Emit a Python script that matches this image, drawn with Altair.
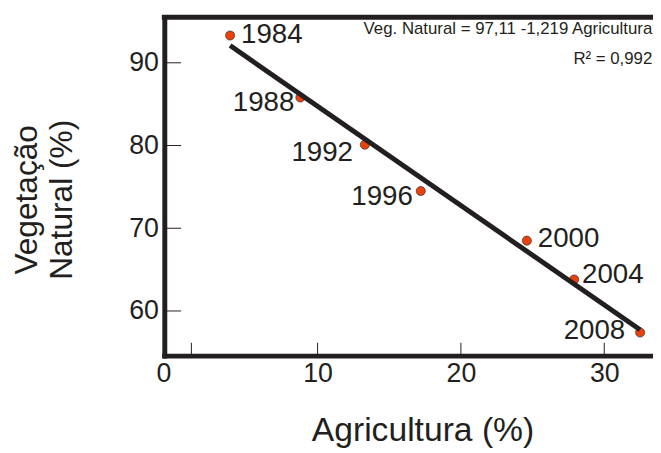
import altair as alt
import pandas as pd

# ---- data ----
years = [1984, 1988, 1992, 1996, 2000, 2004, 2008]
agricultura = [3.9, 8.8, 13.3, 17.2, 24.6, 27.9, 32.5]
vegetacao = [93.3, 85.8, 80.1, 74.5, 68.5, 63.8, 57.4]

x_tick_labels = [0, 10, 20, 30]
x_tick_marks = [1.2, 10, 20, 30]
y_ticks = [60, 70, 80, 90]

eq_lines = ["Veg. Natural = 97,11 -1,219 Agricultura", "R\u00b2 = 0,992"]
eq_y = [94.1, 90.5]

# label placement (style, not data): dx, dy, align
label_style = {
    1984: (11, 0, "left"),
    1988: (-6, 6, "right"),
    1992: (-12, 8, "right"),
    1996: (-8, 6, "right"),
    2000: (11, -2, "left"),
    2004: (8, -4, "left"),
    2008: (-15, -1, "right"),
}

W, H = 494, 342
INK = "#231f20"
FONT = "Liberation Sans"

df = pd.DataFrame({"ano": years, "agri": agricultura, "veg": vegetacao})

xs = alt.Scale(domain=[-0.69, 33.4], nice=False, zero=False)
ys = alt.Scale(domain=[54.6, 95.5], nice=False, zero=False)

x_axis = alt.Axis(
    values=x_tick_labels, ticks=False, grid=False, domainWidth=5, domainColor=INK,
    domainCap="square", labelFont=FONT, labelFontSize=27, labelColor=INK,
    labelPadding=5, labelOffset=alt.condition("datum.value == 0", alt.value(-11), alt.value(0)),
    title="Agricultura (%)", titleFont=FONT, titleFontSize=34, titleFontWeight="normal",
    titleColor=INK, titleX=261, titleY=86, titleBaseline="alphabetic", titleAnchor="middle",
)
y_axis = alt.Axis(
    values=y_ticks, ticks=False, grid=False, domainWidth=5, domainColor=INK,
    domainCap="square", labelFont=FONT, labelFontSize=27, labelColor=INK,
    labelPadding=6,
    title=["Vegeta\u00e7\u00e3o", "Natural (%)"], titleFont=FONT, titleFontSize=32,
    titleFontWeight="normal", titleColor=INK, titleX=-139, titleY=184,
    titleBaseline="middle", titleLineHeight=35, titleAngle=-90,
)

base = alt.Chart(df)

points = base.mark_point(filled=True, size=85, fill="#e8420e", stroke=INK,
                         strokeWidth=0.6, opacity=1).encode(
    x=alt.X("agri:Q", scale=xs, axis=x_axis),
    y=alt.Y("veg:Q", scale=ys, axis=y_axis),
)

reg = base.transform_regression("agri", "veg", method="linear").mark_line(
    color=INK, strokeWidth=5, strokeCap="butt"
).encode(x=alt.X("agri:Q", scale=xs), y=alt.Y("veg:Q", scale=ys))

labels = []
for yr, (dx, dy, al) in label_style.items():
    labels.append(
        base.transform_filter(alt.datum.ano == yr).mark_text(
            align=al, baseline="middle", dx=dx, dy=dy, font=FONT, fontSize=28, color=INK
        ).encode(x=alt.X("agri:Q", scale=xs), y=alt.Y("veg:Q", scale=ys), text="ano:N")
    )

yt = alt.Chart(pd.DataFrame({"v": y_ticks})).mark_rule(color=INK, strokeWidth=1).encode(
    y=alt.Y("v:Q", scale=ys), x=alt.value(0), x2=alt.value(17)
)
xt = alt.Chart(pd.DataFrame({"v": x_tick_marks})).mark_rule(color=INK, strokeWidth=1).encode(
    x=alt.X("v:Q", scale=xs), y=alt.value(H), y2=alt.value(H - 13)
)

top = alt.Chart(pd.DataFrame({"a": [0]})).mark_rule(color=INK, strokeWidth=5).encode(
    x=alt.value(-2.5), x2=alt.value(W + 10), y=alt.value(0)
)

eq = alt.Chart(pd.DataFrame({"t": eq_lines, "y": eq_y, "x": [33.35, 33.35]})).mark_text(
    align="right", baseline="middle", font=FONT, fontSize=17, color=INK
).encode(x=alt.X("x:Q", scale=xs), y=alt.Y("y:Q", scale=ys), text="t:N")

chart = alt.layer(yt, xt, points, reg, *labels, eq, top).properties(
    width=W, height=H,
    autosize=alt.AutoSizeParams(type="none"),
    padding={"left": 158, "top": 7, "right": 0, "bottom": 96},
).configure_view(stroke=None).configure(background="white")

chart.save("out.html", embed_options={"renderer": "svg", "actions": False})
